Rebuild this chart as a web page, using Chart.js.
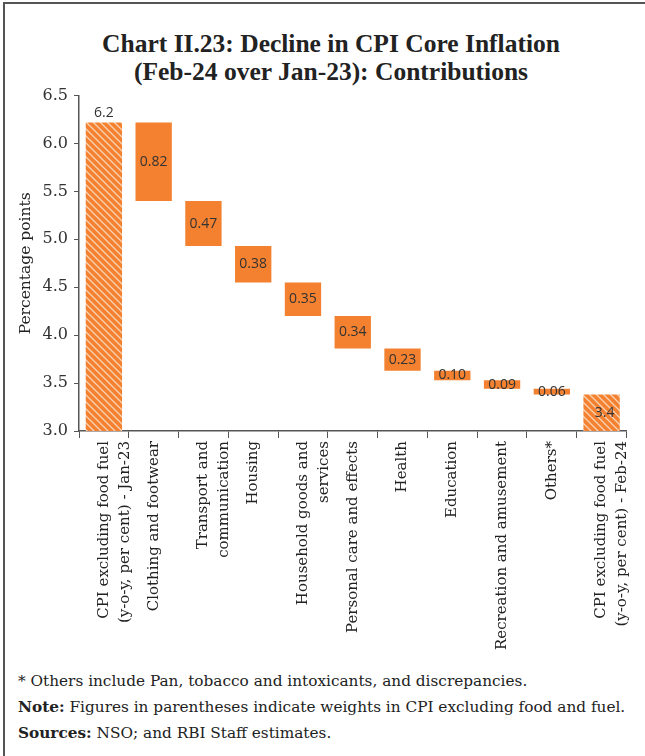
<!DOCTYPE html>
<html>
<head>
<meta charset="utf-8">
<script src="https://cdn.jsdelivr.net/npm/chart.js@4.4.1/dist/chart.umd.min.js"></script>
<style>
  body { margin: 0; background: #fff; }
  #page {
    position: relative; overflow: hidden;
    box-sizing: border-box; border-top: 2px solid #555; border-left: 2px solid #555;
    margin-left: 3px; margin-top: 2px; width: 642px; height: 754px;
  }
  #title {
    position: absolute; left: 6px; top: 26px; width: 640px; text-align: center;
    font-family: "Liberation Serif", serif; font-weight: bold; font-size: 25.5px;
    line-height: 28px; color: #222;
  }
  #chartBox { position: absolute; left: -3px; top: 76px; width: 645px; height: 575px; }
  #notes {
    position: absolute; left: 13px; top: 664px;
    font-family: "DejaVu Serif", serif; font-size: 15.3px; line-height: 26px; color: #222;
  }
</style>
</head>
<body>
<div id="page">
  <div id="title">Chart II.23: Decline in CPI Core Inflation<br>(Feb-24 over Jan-23): Contributions</div>
  <div id="chartBox"><canvas id="waterfall"></canvas></div>
  <div id="notes">
    * Others include Pan, tobacco and intoxicants, and discrepancies.<br>
    <b>Note:</b> Figures in parentheses indicate weights in CPI excluding food and fuel.<br>
    <b>Sources:</b> NSO; and RBI Staff estimates.
  </div>
</div>
<script>
const categories = [
  ['CPI excluding food fuel', '(y-o-y, per cent) - Jan-23'],
  'Clothing and footwear',
  ['Transport and', 'communication'],
  'Housing',
  ['Household goods and', 'services'],
  'Personal care and effects',
  'Health',
  'Education',
  'Recreation and amusement',
  'Others*',
  ['CPI excluding food fuel', '(y-o-y, per cent) - Feb-24']
];
const startValue = 6.22;
const endValue = 3.38;
const contributions = [0.82, 0.47, 0.38, 0.35, 0.34, 0.23, 0.10, 0.09, 0.06];
const barLabels = ['6.2', '0.82', '0.47', '0.38', '0.35', '0.34', '0.23', '0.10', '0.09', '0.06', '3.4'];
const yTicks = [3.0, 3.5, 4.0, 4.5, 5.0, 5.5, 6.0, 6.5];

const orange = '#F3812F';

function makeHatch() {
  const size = 7;
  const c = document.createElement('canvas');
  c.width = size; c.height = size;
  const g = c.getContext('2d');
  g.fillStyle = orange;
  g.fillRect(0, 0, size, size);
  g.strokeStyle = '#FAD2B4';
  g.lineWidth = 1.3;
  g.beginPath();
  g.moveTo(-size, 0); g.lineTo(size * 2, size * 3);
  g.moveTo(-size, -size); g.lineTo(size * 2, size * 2);
  g.moveTo(0, -size); g.lineTo(size * 2, size);
  g.stroke();
  return g.createPattern(c, 'repeat');
}

// build the floating ranges from the contributions
const yMin = yTicks[0];
const ranges = [[yMin, startValue]];
let level = startValue;
contributions.forEach(c => {
  ranges.push([level - c, level]);
  level -= c;
});
ranges.push([yMin, endValue]);

const hatch = makeHatch();
const colors = ranges.map((r, i) => (i === 0 || i === ranges.length - 1) ? hatch : orange);

const barValueLabels = {
  id: 'barValueLabels',
  afterDatasetsDraw(chart) {
    const ctx = chart.ctx;
    const meta = chart.getDatasetMeta(0);
    ctx.save();
    ctx.font = '14px "Open Sans", sans-serif';
    ctx.fillStyle = '#333';
    ctx.textAlign = 'center';
    ctx.textBaseline = 'middle';
    meta.data.forEach((bar, i) => {
      const top = Math.min(bar.y, bar.base);
      const bottom = Math.max(bar.y, bar.base);
      if (i === 0) {
        ctx.fillText(barLabels[i], bar.x, top - 9);
      } else {
        ctx.fillText(barLabels[i], bar.x + (i === meta.data.length - 1 ? 3 : 0), (top + bottom) / 2);
      }
    });
    ctx.restore();
  }
};

const serif = '"DejaVu Serif", serif';

const ctx = document.getElementById('waterfall').getContext('2d');
new Chart(ctx, {
  type: 'bar',
  data: {
    labels: categories,
    datasets: [{
      data: ranges,
      backgroundColor: colors,
      borderWidth: 0,
      barPercentage: 0.73,
      categoryPercentage: 1
    }]
  },
  options: {
    responsive: true,
    maintainAspectRatio: false,
    animation: false,
    layout: { padding: { top: 2, right: 9, left: 0, bottom: 0 } },
    plugins: {
      legend: { display: false },
      tooltip: { enabled: false }
    },
    scales: {
      x: {
        grid: { display: true, drawOnChartArea: false, drawTicks: true, tickLength: 7, color: '#555', offset: true },
        border: { color: '#555', width: 1.5 },
        ticks: {
          minRotation: 90, maxRotation: 90, autoSkip: false, padding: 3,
          color: '#222',
          font: { family: serif, size: 15, lineHeight: 1.4 }
        },
        afterFit(scale) { scale.height = 224; }
      },
      y: {
        min: 3, max: 6.5,
        afterBuildTicks(scale) { scale.ticks = yTicks.map(v => ({ value: v })); },
        grid: { display: true, drawOnChartArea: false, drawTicks: true, tickLength: 5, color: '#555' },
        border: { color: '#555', width: 1.5 },
        ticks: {
          color: '#333', padding: 6,
          font: { family: serif, size: 16 },
          callback: v => Number(v).toFixed(1)
        },
        title: {
          display: true, text: 'Percentage points', color: '#222',
          font: { family: serif, size: 15.5 },
          padding: { top: 15, bottom: 0 }
        },
        afterFit(scale) { scale.width = 77; }
      }
    }
  },
  plugins: [barValueLabels]
});
</script>
</body>
</html>
